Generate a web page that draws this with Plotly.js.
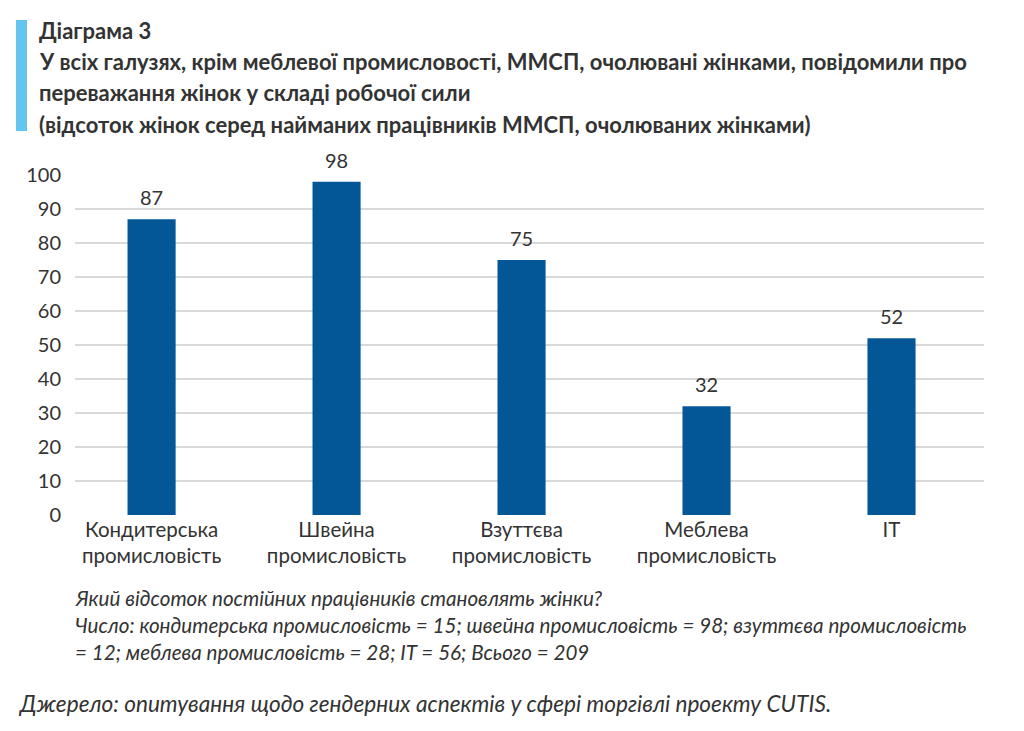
<!DOCTYPE html>
<html>
<head>
<meta charset="utf-8">
<script src="https://cdn.plot.ly/plotly-3.0.1.min.js"></script>
<style>
html,body{margin:0;padding:0;background:#fff;}
#chart{width:1024px;height:731px;}
</style>
</head>
<body>
<div id="chart"></div>
<script>
const categories = ["Кондитерська<br>промисловість", "Швейна<br>промисловість", "Взуттєва<br>промисловість", "Меблева<br>промисловість", "IT"];
const values = [87, 98, 75, 32, 52];
const yTicks = [0, 10, 20, 30, 40, 50, 60, 70, 80, 90, 100];
const titleLines = [
  "Діаграма 3",
  "У всіх галузях, крім меблевої промисловості, ММСП, очолювані жінками, повідомили про",
  "переважання жінок у складі робочої сили",
  "(відсоток жінок серед найманих працівників ММСП, очолюваних жінками)"
];
const noteLines = [
  "Який відсоток постійних працівників становлять жінки?",
  "Число: кондитерська промисловість = 15; швейна промисловість = 98; взуттєва промисловість",
  "= 12; меблева промисловість = 28; IT = 56; Всього = 209"
];
const sourceText = "Джерело: опитування щодо гендерних аспектів у сфері торгівлі проекту CUTIS.";

const W = 1024, H = 731;
const mL = 75, mR = 40, mT = 175, mB = 216;
const pw = W - mL - mR, ph = H - mT - mB;
const px = x => (x - mL) / pw;
const py = y => (H - mB - y) / ph;

const font = "Lato, 'Open Sans', sans-serif";
const annotations = [];
const titleY = [30, 61, 93, 124];
titleLines.forEach((t, i) => annotations.push({
  text: "<b>" + t + "</b>", xref: "paper", yref: "paper",
  x: px(37), y: py(titleY[i]), xanchor: "left", yanchor: "middle",
  showarrow: false, font: {family: font, size: 22, color: "#333333"}
}));
const noteY = [598, 625, 652];
noteLines.forEach((t, i) => annotations.push({
  text: "<i>" + t + "</i>", xref: "paper", yref: "paper",
  x: px(73), y: py(noteY[i]), xanchor: "left", yanchor: "middle",
  showarrow: false, font: {family: font, size: 20.6, color: "#333333"}
}));
annotations.push({
  text: "<i>" + sourceText + "</i>", xref: "paper", yref: "paper",
  x: px(16), y: py(703), xanchor: "left", yanchor: "middle",
  showarrow: false, font: {family: font, size: 22.6, color: "#333333"}
});
values.forEach((v, i) => annotations.push({
  text: String(v), xref: "x", yref: "y", x: categories[i], y: v,
  xanchor: "center", yanchor: "bottom", yshift: 8, showarrow: false,
  font: {family: font, size: 20, color: "#333333"}
}));

const data = [{
  type: "bar",
  x: categories,
  y: values,
  width: 0.26,
  marker: {color: "#045797"},
  hoverinfo: "none"
}];

const layout = {
  width: W, height: H,
  margin: {l: mL, r: mR, t: mT, b: mB, pad: 0},
  paper_bgcolor: "#ffffff", plot_bgcolor: "#ffffff",
  showlegend: false,
  font: {family: font, size: 20, color: "#333333"},
  xaxis: {
    type: "category",
    range: [-0.414, 4.5],
    showgrid: false, zeroline: false, showline: false,
    ticks: "", tickfont: {family: font, size: 20.5, color: "#333333"},
    fixedrange: true
  },
  yaxis: {
    range: [0, 100],
    tickvals: yTicks,
    ticktext: yTicks.map(String),
    showgrid: true, gridcolor: "#d9d9d9", gridwidth: 1.5,
    zeroline: false, showline: false, ticks: "",
    ticklabelstandoff: 13,
    tickfont: {family: font, size: 20, color: "#333333"},
    fixedrange: true
  },
  shapes: [{
    type: "rect", xref: "paper", yref: "paper",
    x0: px(16), x1: px(27), y0: py(131), y1: py(20),
    fillcolor: "#63C6F1", line: {width: 0}, layer: "above"
  }],
  annotations: annotations
};

Plotly.newPlot("chart", data, layout, {displayModeBar: false, staticPlot: true});
</script>
</body>
</html>
